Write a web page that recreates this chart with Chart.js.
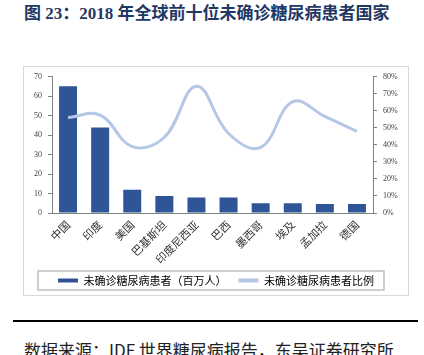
<!DOCTYPE html>
<html>
<head>
<meta charset="utf-8">
<script src="https://cdn.jsdelivr.net/npm/chart.js@4/dist/chart.umd.min.js"></script>
<style>
html,body{margin:0;padding:0;background:#fff;width:424px;height:355px;overflow:hidden;position:relative;}
#title{position:absolute;left:24px;top:5px;font:bold 17px/17px "Liberation Serif","Noto Sans CJK SC",serif;color:#1F3864;white-space:nowrap;}
#panel{position:absolute;left:23px;top:66px;width:386px;height:230px;border:1px solid #D9D9D9;box-sizing:border-box;}
#wrap{position:absolute;left:23px;top:66px;width:386px;height:232px;}
#rule{position:absolute;left:13px;top:320px;width:405px;height:2px;background:#000;}
#source{position:absolute;left:24px;top:341px;font:17px/17px "Noto Sans CJK SC",sans-serif;color:#222;white-space:nowrap;}
</style>
</head>
<body>
<div id="title">图 23：2018 年全球前十位未确诊糖尿病患者国家</div>
<div id="panel"></div>
<div id="wrap"><canvas id="c" width="386" height="232"></canvas></div>
<div id="rule"></div>
<div id="source">数据来源：IDF 世界糖尿病报告，东吴证券研究所</div>
<script>
const categories = ['中国','印度','美国','巴基斯坦','印度尼西亚','巴西','墨西哥','埃及','孟加拉','德国'];
const undiagnosed = [65.2, 43.9, 11.9, 8.8, 8.0, 8.0, 5.0, 5.0, 4.6, 4.6];
const undiagnosedRatio = [0.561, 0.575, 0.39, 0.445, 0.745, 0.467, 0.385, 0.654, 0.567, 0.48];
const seriesNames = ['未确诊糖尿病患者（百万人）', '未确诊糖尿病患者比例'];
const leftTicks = [0, 70, 10];
const rightTicks = [0, 0.8, 0.1];

const barColor = '#2F5597';
const lineColor = '#B4C7E7';
const axisColor = '#808080';
const tickFont = {family: '"Liberation Serif", serif', size: 8};
const cjkFont = {family: '"Noto Sans CJK SC", sans-serif', size: 11};

const legendBox = {
  id: 'legendBox',
  afterDraw(chart) {
    const hb = chart.legend.legendHitBoxes;
    if (!hb || !hb.length) return;
    let minX = Infinity, maxX = -Infinity, minY = Infinity, maxY = -Infinity;
    hb.forEach(b => {
      minX = Math.min(minX, b.left); maxX = Math.max(maxX, b.left + b.width);
      minY = Math.min(minY, b.top); maxY = Math.max(maxY, b.top + b.height);
    });
    const ctx = chart.ctx;
    ctx.save();
    ctx.strokeStyle = '#BFBFBF';
    ctx.lineWidth = 1.5;
    ctx.strokeRect(minX - 20, minY - 4, (maxX - minX) + 30, (maxY - minY) + 8);
    ctx.restore();
  }
};

new Chart(document.getElementById('c'), {
  data: {
    labels: categories,
    datasets: [
      {type: 'bar', label: seriesNames[0], data: undiagnosed, backgroundColor: barColor,
       borderWidth: 0, yAxisID: 'y', order: 1, barPercentage: 0.56, categoryPercentage: 1.0},
      {type: 'line', label: seriesNames[1], data: undiagnosedRatio, borderColor: lineColor,
       backgroundColor: lineColor, borderWidth: 3, pointRadius: 0, tension: 0.4,
       yAxisID: 'y1', order: 0, fill: false}
    ]
  },
  options: {
    responsive: false,
    devicePixelRatio: 1,
    animation: false,
    layout: {padding: {top: 9, left: 0, right: 0, bottom: 2}},
    plugins: {
      tooltip: {enabled: false},
      legend: {
        position: 'bottom',
        labels: {
          boxWidth: 20, boxHeight: 4, padding: 12,
          font: cjkFont, color: '#1a1a1a',
          generateLabels: () => [
            {text: seriesNames[0], fillStyle: barColor, strokeStyle: barColor, lineWidth: 0, datasetIndex: 0},
            {text: seriesNames[1], fillStyle: lineColor, strokeStyle: lineColor, lineWidth: 0, datasetIndex: 1}
          ]
        }
      }
    },
    scales: {
      x: {
        grid: {display: false, drawTicks: false},
        border: {display: true, color: axisColor, width: 1},
        ticks: {maxRotation: 45, minRotation: 45, autoSkip: false, font: cjkFont, color: '#333', padding: 5},
        afterFit: s => { s.height = 50; }
      },
      y: {
        position: 'left',
        min: leftTicks[0], max: leftTicks[1],
        ticks: {stepSize: leftTicks[2], font: tickFont, color: '#404040', padding: 6},
        grid: {drawOnChartArea: false, drawTicks: true, tickLength: 4, color: axisColor},
        border: {display: true, color: axisColor, width: 1},
        afterFit: s => { s.width = 29; }
      },
      y1: {
        position: 'right',
        min: rightTicks[0], max: rightTicks[1],
        ticks: {stepSize: rightTicks[2], font: tickFont, color: '#404040', padding: 6,
                callback: v => Math.round(v * 100) + '%'},
        grid: {drawOnChartArea: false, drawTicks: true, tickLength: 4, color: axisColor},
        border: {display: true, color: axisColor, width: 1},
        afterFit: s => { s.width = 36; }
      }
    }
  },
  plugins: [legendBox]
});
</script>
</body>
</html>
